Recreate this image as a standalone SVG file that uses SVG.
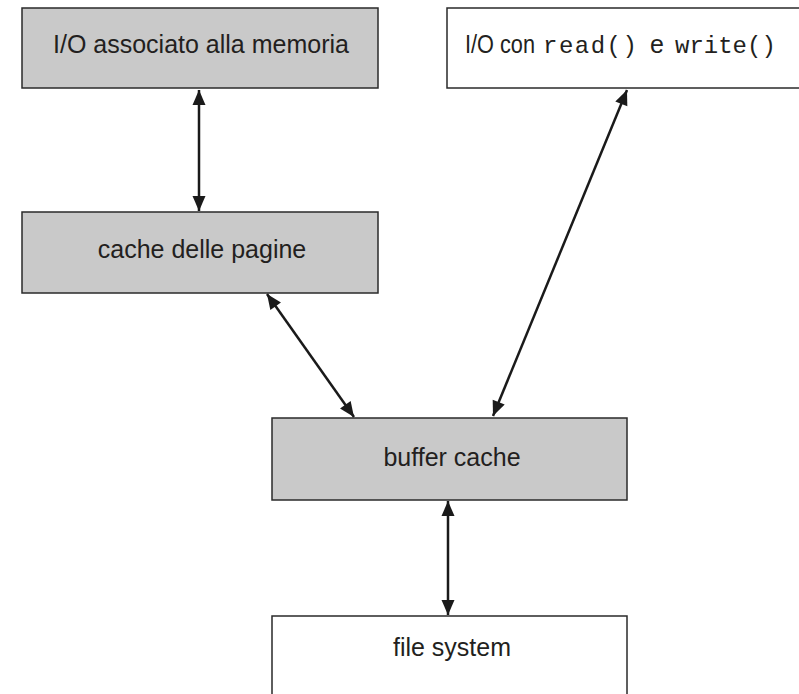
<svg xmlns="http://www.w3.org/2000/svg" width="799" height="694" viewBox="0 0 799 694">
  <style>
    .box { stroke: #2a2a2a; stroke-width: 1.5; }
    .grey { fill: #c9c9c9; }
    .white { fill: #ffffff; }
    .lbl { font-family: "Liberation Sans", Arial, sans-serif; font-size: 25px; fill: #231f20; }
    .mono { font-family: "Liberation Mono", "Courier New", monospace; font-size: 24px; fill: #231f20; }
    .conn { stroke: #1a1a1a; stroke-width: 2.5; fill: none; marker-start: url(#ah); marker-end: url(#ah); }
  </style>
  <defs>
    <marker id="ah" markerUnits="userSpaceOnUse" markerWidth="18" markerHeight="18" viewBox="0 0 18 18" refX="16" refY="9" orient="auto-start-reverse">
      <path d="M1,2.5 L16,9 L1,15.5 Z" fill="#1a1a1a"/>
    </marker>
  </defs>
  <rect width="799" height="694" fill="#ffffff"/>

  <g id="node-io-memoria">
    <rect class="box grey" x="22" y="8" width="356" height="80"/>
    <text class="lbl" x="201" y="53" text-anchor="middle">I/O associato alla memoria</text>
  </g>

  <g id="node-io-readwrite">
    <rect class="box white" x="447" y="8" width="360" height="80"/>
    <text class="lbl" x="465" y="53" font-size="24" textLength="70" lengthAdjust="spacingAndGlyphs">I/O con</text>
    <text class="mono" x="543" y="53" font-size="25" letter-spacing="1.5">read()</text>
    <text class="lbl" x="650" y="53">e</text>
    <text class="mono" x="675" y="53">write()</text>
  </g>

  <g id="node-cache-pagine">
    <rect class="box grey" x="22" y="212" width="356" height="81"/>
    <text class="lbl" x="202" y="258" text-anchor="middle">cache delle pagine</text>
  </g>

  <g id="node-buffer-cache">
    <rect class="box grey" x="272" y="418" width="355" height="82"/>
    <text class="lbl" x="452" y="466" text-anchor="middle">buffer cache</text>
  </g>

  <g id="node-file-system">
    <rect class="box white" x="272" y="616" width="355" height="90"/>
    <text class="lbl" x="452" y="656" text-anchor="middle">file system</text>
  </g>

  <g id="connectors">
    <line class="conn" x1="199" y1="90" x2="199" y2="211"/>
    <line class="conn" x1="267" y1="294" x2="354" y2="417"/>
    <line class="conn" x1="627" y1="90" x2="493" y2="416"/>
    <line class="conn" x1="448" y1="501" x2="448" y2="615"/>
  </g>
</svg>
